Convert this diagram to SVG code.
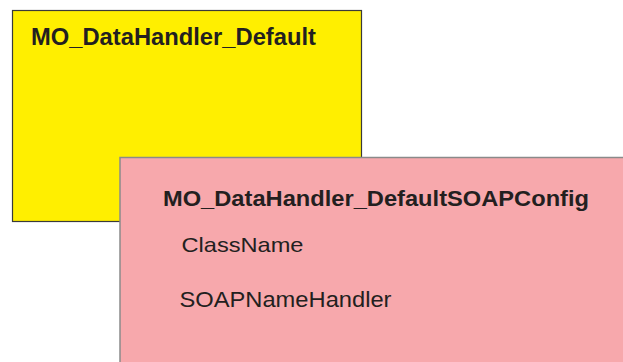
<svg xmlns="http://www.w3.org/2000/svg" width="623" height="362" viewBox="0 0 623 362">
<style>
.t{font-family:"Liberation Sans",Arial,sans-serif;fill:#231f20}
.b{font-weight:bold}
</style>
<rect width="623" height="362" fill="#ffffff"/>
<g id="node-default">
<rect x="12.5" y="10.5" width="349" height="211" fill="#ffef00" stroke="#3a3a3a" stroke-width="1.2"/>
<text class="t b" x="31" y="45" font-size="24" textLength="285" lengthAdjust="spacingAndGlyphs">MO_DataHandler_Default</text>
</g>
<g id="node-soapconfig">
<rect x="120" y="157.5" width="510" height="210" fill="#f7a8ac" stroke="#8a8a8a" stroke-width="1.5"/>
<text class="t b" x="163" y="206" font-size="22.5" textLength="426" lengthAdjust="spacingAndGlyphs">MO_DataHandler_DefaultSOAPConfig</text>
<text class="t" x="181.5" y="251.5" font-size="21" textLength="122" lengthAdjust="spacingAndGlyphs">ClassName</text>
<text class="t" x="179.5" y="306.5" font-size="22" textLength="212" lengthAdjust="spacingAndGlyphs">SOAPNameHandler</text>
</g>
<g id="connectors"/>
</svg>
